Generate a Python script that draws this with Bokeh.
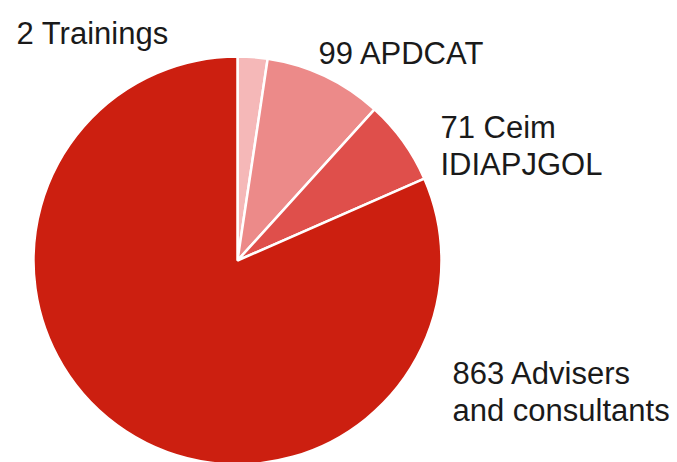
import math
from bokeh.plotting import figure
from bokeh.models import ColumnDataSource, Range1d
from bokeh.core.properties import value
from bokeh.embed import file_html
from bokeh.resources import INLINE

# Data
categories = ["Trainings", "APDCAT", "Ceim IDIAPJGOL", "Advisers and consultants"]
values = [25, 99, 71, 863]
labels = ["2 Trainings", "99 APDCAT", "71 Ceim\nIDIAPJGOL", "863 Advisers\nand consultants"]
colors = ["#f5b8b8", "#ec8a89", "#df4f4b", "#cc1f10"]

W, H = 677, 462
p = figure(width=W, height=H, output_backend="svg", toolbar_location=None,
           x_range=Range1d(0, W), y_range=Range1d(0, H), min_border=0)
p.axis.visible = False
p.grid.visible = False
p.outline_line_color = None
p.background_fill_color = "white"

# pie geometry in data units (1 unit = 1 px), y measured upward
cx, cy, r = 237, H - 260, 204
total = sum(values)
starts, ends = [], []
a = math.pi / 2
for v in values:
    starts.append(a)
    a -= v / total * 2 * math.pi
    ends.append(a)

src = ColumnDataSource(dict(start=starts, end=ends, color=colors, cat=categories))
p.wedge(x=cx, y=cy, radius=r, start_angle="start", end_angle="end",
        direction="clock", fill_color="color", line_color="white",
        line_width=2.5, source=src)

# label anchors (left, first baseline) in pixels from top-left
anchors = [(16, 33), (318, 53), (440, 127), (452, 373)]
line_gap = 36.5
tx, ty, tt = [], [], []
for (px, py), lab in zip(anchors, labels):
    for i, line in enumerate(lab.split("\n")):
        tx.append(px)
        ty.append(H - (py + i * line_gap))
        tt.append(line)
p.text(x=tx, y=ty, text=tt, text_font=value("Liberation Sans"),
       text_font_size="31px", text_color="#1a1a1a",
       text_align="left", text_baseline="alphabetic")

open("out.html", "w").write(file_html(p, INLINE))
